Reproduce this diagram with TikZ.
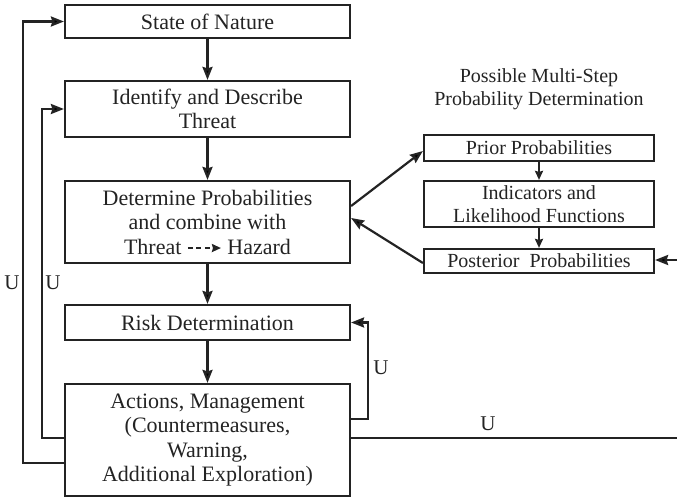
\documentclass[tikz,border=0pt]{standalone}
\usepackage{fontspec}
\setmainfont{Liberation Serif}
\usetikzlibrary{arrows.meta,calc}
\definecolor{ink}{RGB}{35,35,35}
\begin{document}
\begin{tikzpicture}[x=1pt,y=-1pt,
  mainbox/.style={draw=ink,line width=2.2pt,text=ink,align=center,minimum width=285pt,inner sep=0pt,font=\fontsize{22}{24.5}\selectfont},
  sidebox/.style={draw=ink,line width=2.2pt,text=ink,align=center,minimum width=230pt,inner sep=0pt,font=\fontsize{20}{22.5}\selectfont},
  flow/.style={draw=ink,line width=2.2pt,-{Stealth[length=13pt,width=10pt,inset=1.5pt]}},
  smallflow/.style={draw=ink,line width=2pt,-{Stealth[length=9pt,width=8pt,inset=1pt]}},
  plain/.style={draw=ink,line width=2.2pt},
  lab/.style={text=ink,font=\fontsize{21}{24}\selectfont,inner sep=0pt}]
\useasboundingbox (0,0) rectangle (677,498);
% main column
\node[mainbox,minimum height=33pt] (nature) at (207.5,21.5) {State of Nature};
\node[mainbox,minimum height=56pt] (identify) at (207.5,109) {Identify and Describe\\Threat};
\node[mainbox,minimum height=82pt] (determine) at (207.5,222) {Determine Probabilities\\and combine with\\Threat \tikz[baseline,x=1pt,y=1pt]\draw[ink,dashed,dash pattern=on 5pt off 3.5pt,line width=2pt,-{Stealth[length=9pt,width=8pt,inset=1pt]}] (0,6) -- (33,6);\ Hazard};
\node[mainbox,minimum height=35pt] (risk) at (207.5,322.5) {Risk Determination};
\node[mainbox,minimum height=112pt] (actions) at (207.5,440) {Actions, Management\\(Countermeasures,\\Warning,\\Additional Exploration)};
% side column
\node[text=ink,align=center,font=\fontsize{20}{23}\selectfont] (title) at (539,89) {Possible Multi-Step\\Probability Determination};
\node[sidebox,minimum height=26pt] (prior) at (539,148) {Prior Probabilities};
\node[sidebox,minimum height=46pt] (indic) at (539,204) {Indicators and\\Likelihood Functions};
\node[sidebox,minimum height=24pt] (post) at (539,261) {Posterior\ \ Probabilities};
% main arrows
\draw[flow] (nature) -- (identify);
\draw[flow] (identify) -- (determine);
\draw[flow] (determine) -- (risk);
\draw[flow] (risk) -- (actions);
% side arrows
\draw[smallflow] (prior) -- (indic);
\draw[smallflow] (indic) -- (post);
\draw[flow] ($(determine.east)+(0,-16)$) -- ($(prior.west)+(0,3)$);
\draw[flow] ($(post.west)+(0,2)$) -- ($(determine.east)+(0,-4)$);
\coordinate (postin) at (677,260);
\draw[flow] (postin) -- (post.east |- postin);
% feedback loops
\coordinate (outerA) at (23,463);
\coordinate (innerA) at (42,438);
\draw[flow] (actions.west |- outerA) -- (outerA) |- (nature.west);
\draw[flow] (actions.west |- innerA) -- (innerA) |- (identify.west);
\coordinate (riskloop) at (368,419);
\draw[flow] (actions.east |- riskloop) -- (riskloop) |- (risk.east);
\coordinate (farend) at (677,438);
\draw[plain] (actions.east |- farend) -- (farend);
% labels
\node[lab] (u1) at (12,283) {U};
\node[lab] (u2) at (53,283) {U};
\node[lab] (u3) at (381,368) {U};
\node[lab] (u4) at (488,424) {U};
\end{tikzpicture}
\end{document}
